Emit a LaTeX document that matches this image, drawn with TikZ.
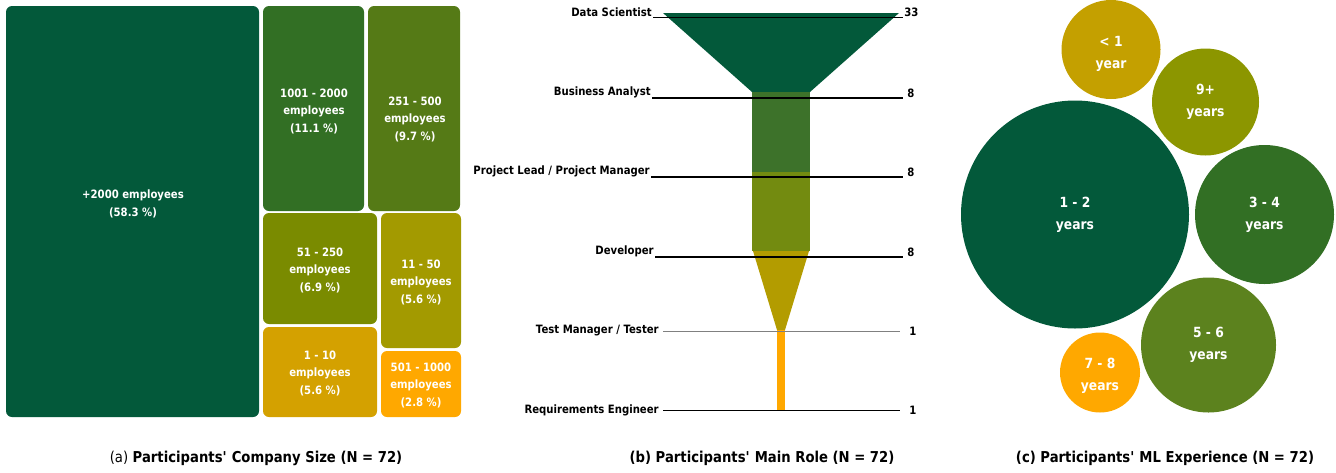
\documentclass[tikz,border=0pt]{standalone}
\usepackage{fontspec}
\setmainfont{DejaVu Sans}[FakeStretch=0.88]
\usetikzlibrary{positioning}
\definecolor{cBig}{HTML}{03593A}
\definecolor{cTwoK}{HTML}{326F24}
\definecolor{cHalfK}{HTML}{557A16}
\definecolor{cMid}{HTML}{7A8B00}
\definecolor{cSmall}{HTML}{A39A00}
\definecolor{cTiny}{HTML}{D4A100}
\definecolor{cOrange}{HTML}{FFA800}
\definecolor{cAnalyst}{HTML}{3D722A}
\definecolor{cLead}{HTML}{738B10}
\definecolor{cDev}{HTML}{B39C00}
\definecolor{cLess}{HTML}{C4A000}
\definecolor{cNine}{HTML}{8C9600}
\definecolor{cFive}{HTML}{5C821E}
\begin{document}
\begin{tikzpicture}[x=1pt, y=-1pt, semithick, node distance=0pt]
\tikzstyle{tile}=[rounded corners=6pt]
\tikzstyle{tiletext}=[text=white, align=center, font=\bfseries\fontsize{11.5}{17.5}\selectfont]
\tikzstyle{role}=[text=black, inner sep=1pt, font=\bfseries\fontsize{11.5}{14}\selectfont]
\tikzstyle{rule}=[line width=1.6pt, black]
\tikzstyle{bubble}=[circle, inner sep=0pt, text=white, align=center, font=\bfseries\fontsize{14}{22}\selectfont]
\tikzstyle{bubbletext}=[text=white, align=center, font=\bfseries\fontsize{14}{22}\selectfont]
\tikzstyle{caption}=[text=black, font=\bfseries\fontsize{15}{18}\selectfont]
\useasboundingbox (0,0) rectangle (1336,472);
\fill[tile, cBig] (6,6) rectangle (259,417);
\fill[tile, cTwoK] (263,6) rectangle (364,211);
\fill[tile, cHalfK] (368,6) rectangle (460,211);
\fill[tile, cMid] (263,213) rectangle (377,324);
\fill[tile, cSmall] (381,213) rectangle (461,348);
\fill[tile, cTiny] (263,327) rectangle (377,417);
\fill[tile, cOrange] (381,351) rectangle (461,417);
\node[tiletext] (s2000) at (133,204) {+2000 employees\\(58.3 \%)};
\node[tiletext] (s1001) at (314,111) {1001 - 2000\\employees\\(11.1 \%)};
\node[tiletext] (s251)  at (415,119) {251 - 500\\employees\\(9.7 \%)};
\node[tiletext] (s51)   at (320,270) {51 - 250\\employees\\(6.9 \%)};
\node[tiletext] (s11)   at (421,282) {11 - 50\\employees\\(5.6 \%)};
\node[tiletext] (s1)    at (320,373) {1 - 10\\employees\\(5.6 \%)};
\node[tiletext] (s501)  at (421,385) {501 - 1000\\employees\\(2.8 \%)};
\fill[cBig] (663,13) -- (899,13) -- (810,92) -- (752,92) -- cycle;
\fill[cAnalyst] (752,92) rectangle (810,172);
\fill[cLead] (752,172) rectangle (810,251);
\fill[cDev] (753,251) -- (809,251) -- (785,330) -- (777,330) -- cycle;
\fill[cOrange] (777,330) rectangle (785,411);
\coordinate (ds-l) at (653,17.5);
\coordinate (ds-r) at (903,17.5);
\coordinate (ba-l) at (652,98);
\coordinate (ba-r) at (903,98);
\coordinate (pl-l) at (651,177);
\coordinate (pl-r) at (903,177);
\coordinate (dev-l) at (655,257);
\coordinate (dev-r) at (903,257);
\coordinate (tm-l) at (663,331);
\coordinate (tm-r) at (900,331);
\coordinate (re-l) at (663,410);
\coordinate (re-r) at (900,410);
\node[role, above left=of ds-l] (ds) {Data Scientist};
\node[role, above right=0pt and 0pt of ds-r] (dsv) {33};
\node[role, above left=-1pt and 0pt of ba-l] (ba) {Business Analyst};
\node[role, above right=-1pt and 3pt of ba-r] (bav) {8};
\node[role, above left=-1pt and 0pt of pl-l] (pl) {Project Lead / Project Manager};
\node[role, above right=-1pt and 3pt of pl-r] (plv) {8};
\node[role, above left=-1pt and 0pt of dev-l] (dev) {Developer};
\node[role, above right=-1pt and 3pt of dev-r] (devv) {8};
\node[role, left=3pt of tm-l] (tm) {Test Manager / Tester};
\node[role, right=8pt of tm-r] (tmv) {1};
\node[role, left=3pt of re-l] (re) {Requirements Engineer};
\node[role, right=8pt of re-r] (rev) {1};
\draw[rule] (ds-l) -- (ds-r);
\draw[rule] (ba-l) -- (ba-r);
\draw[rule] (pl-l) -- (pl-r);
\draw[rule] (dev-l) -- (dev-r);
\draw[line width=1pt, black!50] (tm-l) -- (tm-r);
\draw[line width=0.9pt, black] (re-l) -- (re-r);
\node[bubble, fill=cLess, minimum size=99pt] (lt1) at (1111,49.5) {};
\node[bubbletext] (lt1t) at (1111,54) {< 1\\year};
\node[bubble, fill=cNine, minimum size=107pt] (y9) at (1205.5,102) {9+\\years};
\node[bubble, fill=cBig, minimum size=228pt] (y12) at (1075,214.5) {1 - 2\\years};
\node[bubble, fill=cTwoK, minimum size=139pt] (y34) at (1264.5,214.5) {3 - 4\\years};
\node[bubble, fill=cFive, minimum size=135pt] (y56) at (1208.5,345) {5 - 6\\years};
\node[bubble, fill=cOrange, minimum size=80pt] (y78) at (1100,372.5) {};
\node[bubbletext] (y78t) at (1100,376) {7 - 8\\years};
\node[caption] (capa) at (256,458) {{\mdseries(a)} Participants\textquotesingle\ Company Size (N = 72)};
\node[caption] (capb) at (762,458) {(b) Participants\textquotesingle\ Main Role (N = 72)};
\node[caption] (capc) at (1165,458) {(c) Participants\textquotesingle\ ML Experience (N = 72)};
\end{tikzpicture}
\end{document}
